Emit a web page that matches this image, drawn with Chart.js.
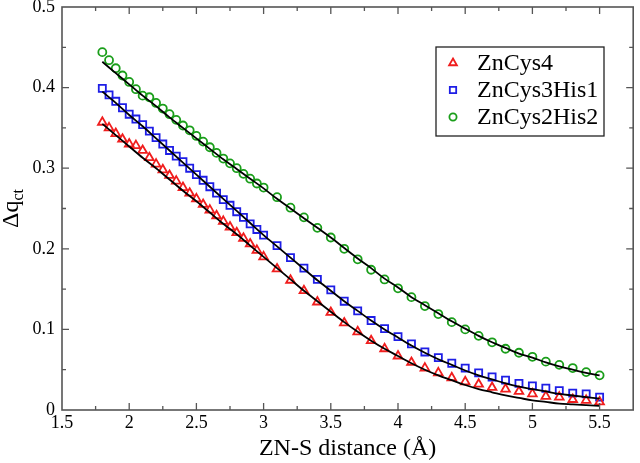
<!DOCTYPE html>
<html>
<head>
<meta charset="utf-8">
<script src="https://cdn.jsdelivr.net/npm/chart.js@4.4.1/dist/chart.umd.min.js"></script>
<style>
html,body{margin:0;padding:0;background:#fff;}
canvas{display:block;}
</style>
</head>
<body>
<canvas id="c" width="640" height="463"></canvas>
<script>
// ---- data ----
const distances = [1.80,1.85,1.90,1.95,2.00,2.05,2.10,2.15,2.20,2.25,2.30,2.35,2.40,2.45,2.50,2.55,2.60,2.65,2.70,2.75,2.80,2.85,2.90,2.95,3.00,
  3.1,3.2,3.3,3.4,3.5,3.6,3.7,3.8,3.9,4.0,4.1,4.2,4.3,4.4,4.5,4.6,4.7,4.8,4.9,5.0,5.1,5.2,5.3,5.4,5.5];
const znCys4 = [0.357,0.350,0.343,0.336,0.330,0.328,0.322,0.313,0.305,0.298,0.291,0.284,0.276,0.269,0.262,0.255,0.248,0.241,0.234,0.227,0.220,0.213,0.206,0.198,0.190,
  0.175,0.161,0.148,0.134,0.121,0.108,0.097,0.086,0.076,0.067,0.059,0.052,0.046,0.040,0.035,0.032,0.028,0.026,0.023,0.020,0.017,0.016,0.013,0.012,0.010];
const znCys3His1 = [0.399,0.391,0.383,0.375,0.367,0.361,0.354,0.346,0.338,0.330,0.322,0.315,0.308,0.300,0.292,0.285,0.277,0.269,0.261,0.254,0.246,0.239,0.231,0.224,0.217,
  0.204,0.189,0.176,0.162,0.149,0.135,0.123,0.111,0.101,0.091,0.082,0.072,0.065,0.058,0.052,0.046,0.041,0.037,0.033,0.030,0.027,0.024,0.021,0.020,0.016];
const znCys2His2 = [0.444,0.434,0.424,0.415,0.407,0.398,0.390,0.388,0.381,0.374,0.367,0.360,0.353,0.347,0.340,0.333,0.326,0.319,0.312,0.306,0.300,0.293,0.287,0.281,0.276,
  0.264,0.251,0.239,0.226,0.214,0.200,0.187,0.174,0.162,0.151,0.140,0.129,0.119,0.109,0.100,0.092,0.084,0.076,0.071,0.066,0.060,0.056,0.052,0.047,0.043];

const fitDistances = [1.8,1.9,2.0,2.1,2.2,2.3,2.4,2.5,2.6,2.7,2.8,2.9,3.0,3.1,3.2,3.3,3.4,3.5,3.6,3.7,3.8,3.9,4.0,4.1,4.2,4.3,4.4,4.5,4.6,4.7,4.8,4.9,5.0,5.1,5.2,5.3,5.4,5.5];
const fitZnCys4 = [0.355,0.341,0.327,0.313,0.300,0.286,0.272,0.259,0.245,0.231,0.218,0.204,0.190,0.176,0.162,0.148,0.135,0.122,0.109,0.097,0.086,0.076,0.067,0.058,0.050,0.043,0.037,0.031,0.026,0.022,0.018,0.015,0.012,0.010,0.008,0.007,0.006,0.005];
const fitZnCys3His1 = [0.395,0.381,0.366,0.352,0.337,0.322,0.307,0.292,0.277,0.262,0.247,0.232,0.217,0.203,0.189,0.175,0.161,0.148,0.135,0.123,0.111,0.100,0.090,0.080,0.071,0.063,0.056,0.049,0.043,0.038,0.033,0.029,0.026,0.023,0.020,0.018,0.016,0.014];
const fitZnCys2His2 = [0.432,0.418,0.404,0.390,0.377,0.363,0.350,0.337,0.324,0.311,0.299,0.287,0.275,0.262,0.250,0.238,0.226,0.214,0.201,0.188,0.176,0.163,0.152,0.140,0.130,0.120,0.110,0.101,0.092,0.084,0.077,0.070,0.065,0.059,0.054,0.050,0.046,0.043];

const seriesNames = ['ZnCys4','ZnCys3His1','ZnCys2His2'];
const xTickValues = [1.5,2,2.5,3,3.5,4,4.5,5,5.5];
const xTickLabels = ['1.5','2','2.5','3','3.5','4','4.5','5','5.5'];
const yTickValues = [0,0.1,0.2,0.3,0.4,0.5];
const yTickLabels = ['0','0.1','0.2','0.3','0.4','0.5'];
const xTitle = 'ZN-S distance (Å)';

// ---- styles ----
const colors = ['#f01e1e','#1e1ee6','#1a9e1a'];
const styles = ['triangle','rect','circle'];
const radii = [5,5,4];
const FONT = '"Liberation Serif", "Times New Roman", serif';

function pts(xs, ys){ return xs.map((x,i)=>({x:x, y:ys[i]})); }
function labelFor(v, vals, labs){
  for (let i=0;i<vals.length;i++) if (Math.abs(vals[i]-v)<1e-9) return labs[i];
  return '';
}

const dataSets = [znCys4, znCys3His1, znCys2His2];
const fitSets = [fitZnCys4, fitZnCys3His1, fitZnCys2His2];
const datasets = [];
fitSets.forEach((f,i)=>{
  datasets.push({label:'fit '+seriesNames[i], data:pts(fitDistances,f), showLine:true, borderColor:'#000', borderWidth:1.8,
    pointRadius:0, tension:0.4, cubicInterpolationMode:'monotone', order:0, isFit:true});
});
dataSets.forEach((d,i)=>{
  datasets.push({label:seriesNames[i], data:pts(distances,d), showLine:false, pointStyle:styles[i], pointRadius:radii[i],
    borderColor:colors[i], backgroundColor:'rgba(0,0,0,0)', pointBorderWidth:1.8, order:1});
});

const framePlugin = {
  id:'frame',
  afterDraw(chart){
    const ctx = chart.ctx, a = chart.chartArea, xs = chart.scales.x, ys = chart.scales.y;
    ctx.save();
    ctx.strokeStyle = '#555'; ctx.lineWidth = 1.6;
    ctx.strokeRect(a.left, a.top, a.right-a.left, a.bottom-a.top);
    ctx.lineWidth = 1.3;
    ctx.beginPath();
    xs.ticks.forEach(t=>{
      const v=t.value; if (v<=xs.min+1e-9 || v>=xs.max-1e-9) return;
      const p = xs.getPixelForValue(v);
      const major = Math.abs(v*2-Math.round(v*2))<1e-9;
      const L = major?7:4;
      ctx.moveTo(p,a.bottom); ctx.lineTo(p,a.bottom-L);
      ctx.moveTo(p,a.top); ctx.lineTo(p,a.top+L);
    });
    ys.ticks.forEach(t=>{
      const v=t.value; if (v<=ys.min+1e-9 || v>=ys.max-1e-9) return;
      const p = ys.getPixelForValue(v);
      const major = Math.abs(v*10-Math.round(v*10))<1e-9;
      const L = major?7:4;
      ctx.moveTo(a.left,p); ctx.lineTo(a.left+L,p);
      ctx.moveTo(a.right,p); ctx.lineTo(a.right-L,p);
    });
    ctx.stroke();

    // y axis title: Δq with subscript ct
    ctx.fillStyle = '#000';
    ctx.translate(18, (a.top+a.bottom)/2);
    ctx.rotate(-Math.PI/2);
    ctx.textBaseline = 'alphabetic';
    const main = 'Δq';
    ctx.font = '16px '+FONT;
    const sw = ctx.measureText('ct').width;
    ctx.font = '24px '+FONT;
    const mw = ctx.measureText(main).width;
    const x0 = -(mw+sw)/2;
    ctx.textAlign = 'left';
    ctx.fillText(main, x0, 0);
    ctx.font = '16px '+FONT;
    ctx.fillText('ct', x0+mw, 5);
    ctx.restore();

    // legend
    ctx.save();
    const lx = 436, ly = 47, lw = 168, lh = 89;
    ctx.fillStyle = '#fff';
    ctx.fillRect(lx, ly, lw, lh);
    ctx.strokeStyle = '#222'; ctx.lineWidth = 1.3;
    ctx.strokeRect(lx, ly, lw, lh);
    const metas = chart.data.datasets.filter(d=>!d.isFit);
    metas.forEach((d,i)=>{
      const cy = ly + 16 + i*27;
      ctx.strokeStyle = d.borderColor; ctx.fillStyle = 'rgba(0,0,0,0)'; ctx.lineWidth = 1.8;
      Chart.helpers.drawPoint(ctx, {pointStyle:d.pointStyle, radius:d.pointRadius*0.9, borderWidth:1.8, rotation:0}, lx+17, cy);
      ctx.fillStyle = '#000';
      ctx.font = '24px '+FONT;
      ctx.textBaseline = 'middle'; ctx.textAlign = 'left';
      ctx.fillText(d.label, lx+41, cy+1);
    });
    ctx.restore();
  }
};

new Chart(document.getElementById('c'), {
  type:'scatter',
  data:{datasets:datasets},
  options:{
    responsive:false, animation:false, devicePixelRatio:1,
    layout:{padding:{top:7,right:3,left:0,bottom:0}},
    plugins:{legend:{display:false}, tooltip:{enabled:false}},
    scales:{
      x:{type:'linear', min:1.5, max:5.75,
        afterBuildTicks(s){ const t=[]; for(let k=0;k<=17;k++) t.push({value:1.5+k*0.25}); s.ticks=t; },
        afterFit(s){ s.height=53; s.paddingLeft=0; s.paddingRight=0; },
        grid:{display:false, drawTicks:false}, border:{display:false},
        ticks:{autoSkip:false, maxRotation:0, minRotation:0, padding:2, color:'#000',
          font:{family:FONT, size:18},
          callback:(v)=>labelFor(v, xTickValues, xTickLabels)},
        title:{display:true, text:xTitle, color:'#000', font:{family:FONT, size:24}, padding:{top:0,bottom:0}}
      },
      y:{type:'linear', min:0, max:0.5,
        afterBuildTicks(s){ const t=[]; for(let k=0;k<=10;k++) t.push({value:Math.round(k*5)/100}); s.ticks=t; },
        afterFit(s){ s.width=62; s.paddingTop=0; s.paddingBottom=0; },
        grid:{display:false, drawTicks:false}, border:{display:false},
        ticks:{autoSkip:false, padding:7, color:'#000', font:{family:FONT, size:18},
          callback:(v)=>labelFor(v, yTickValues, yTickLabels)}
      }
    }
  },
  plugins:[framePlugin]
});
</script>
</body>
</html>
